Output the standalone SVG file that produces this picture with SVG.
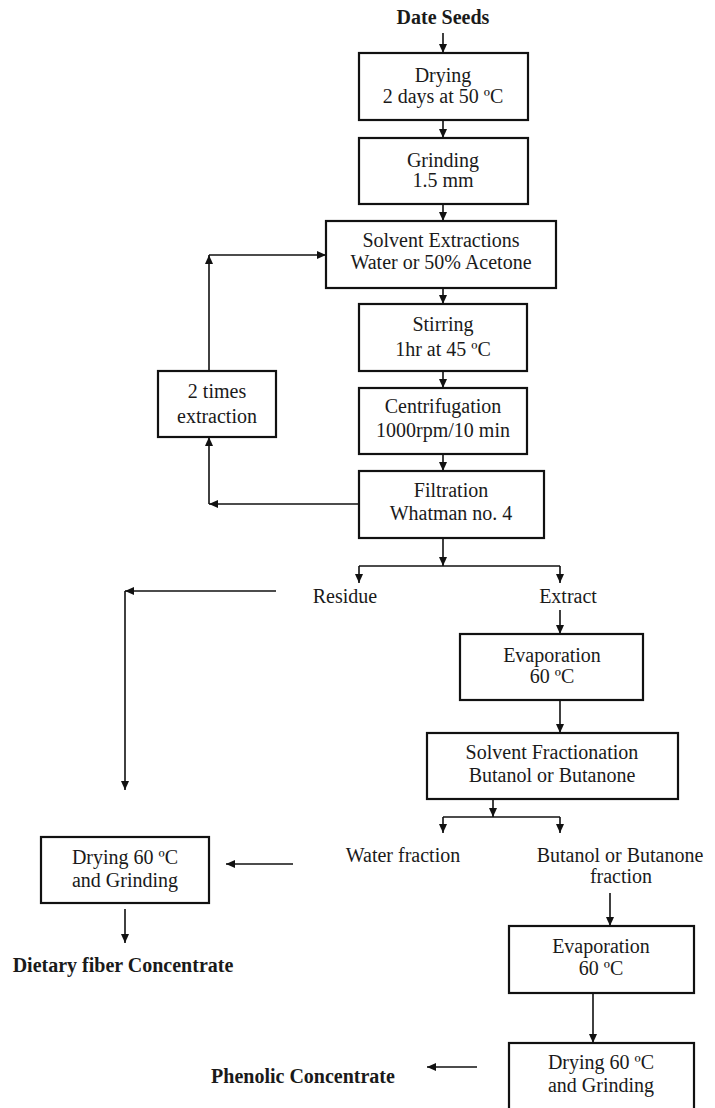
<svg xmlns="http://www.w3.org/2000/svg" width="715" height="1108" viewBox="0 0 715 1108">
<defs>
<marker id="ah" markerUnits="userSpaceOnUse" markerWidth="10" markerHeight="8" refX="9" refY="4" orient="auto">
<path d="M0,0 L9,4 L0,8 z" fill="#111"/>
</marker>
<style>
.box{fill:#fff;stroke:#111;stroke-width:2.2}
.t{font-family:"Liberation Serif","Times New Roman",serif;font-size:20px;fill:#1a1a1a;text-anchor:middle}
.b{font-weight:bold}
.c{fill:none;stroke:#111;stroke-width:1.6}
.a{marker-end:url(#ah)}
</style>
</defs>
<rect width="715" height="1108" fill="#fff"/>
<g id="connectors">
<path class="c a" d="M443,33 V53"/>
<path class="c a" d="M443,120 V138"/>
<path class="c a" d="M443,204 V221"/>
<path class="c a" d="M443,288 V304"/>
<path class="c a" d="M443,371 V388"/>
<path class="c a" d="M443,454 V471"/>
<path class="c a" d="M359,504 H209"/>
<path class="c a" d="M209,504 V437"/>
<path class="c a" d="M209,371 V255"/>
<path class="c a" d="M209,255 H326"/>
<path class="c a" d="M443,538 V566"/>
<path class="c" d="M359,566 H560"/>
<path class="c a" d="M359,566 V583"/>
<path class="c a" d="M560,566 V583"/>
<path class="c a" d="M276,591 H125"/>
<path class="c a" d="M125,591 V790"/>
<path class="c a" d="M560,610 V634"/>
<path class="c a" d="M560,700 V733"/>
<path class="c a" d="M493,799 V817"/>
<path class="c" d="M443,817 H560"/>
<path class="c a" d="M443,817 V833"/>
<path class="c a" d="M560,817 V833"/>
<path class="c a" d="M293,864 H226"/>
<path class="c a" d="M125,909 V943"/>
<path class="c a" d="M610,893 V926"/>
<path class="c a" d="M593,993 V1043"/>
<path class="c a" d="M477,1067 H427"/>
</g>
<g id="date-seeds"><text class="t b" x="443" y="24">Date Seeds</text></g>
<g id="drying1"><rect class="box" x="359" y="53" width="169" height="67"/><text class="t" x="443" y="82">Drying</text><text class="t" x="443" y="103">2 days at 50 ºC</text></g>
<g id="grinding"><rect class="box" x="359" y="138" width="169" height="66"/><text class="t" x="443" y="167">Grinding</text><text class="t" x="443" y="187">1.5 mm</text></g>
<g id="solvent-extractions"><rect class="box" x="326" y="221" width="230" height="67"/><text class="t" x="441" y="247">Solvent Extractions</text><text class="t" x="441" y="269">Water or 50% Acetone</text></g>
<g id="stirring"><rect class="box" x="359" y="304" width="168" height="67"/><text class="t" x="443" y="331">Stirring</text><text class="t" x="443" y="356">1hr at 45 ºC</text></g>
<g id="centrifugation"><rect class="box" x="359" y="388" width="168" height="66"/><text class="t" x="443" y="413">Centrifugation</text><text class="t" x="443" y="437">1000rpm/10 min</text></g>
<g id="filtration"><rect class="box" x="359" y="471" width="185" height="67"/><text class="t" x="451" y="497">Filtration</text><text class="t" x="451" y="520">Whatman no. 4</text></g>
<g id="two-times"><rect class="box" x="158" y="371" width="118" height="66"/><text class="t" x="217" y="398">2 times</text><text class="t" x="217" y="423">extraction</text></g>
<g id="residue"><text class="t" x="345" y="603">Residue</text></g>
<g id="extract"><text class="t" x="568" y="603">Extract</text></g>
<g id="evaporation1"><rect class="box" x="460" y="634" width="183" height="66"/><text class="t" x="552" y="662">Evaporation</text><text class="t" x="552" y="683">60 ºC</text></g>
<g id="solvent-fractionation"><rect class="box" x="427" y="733" width="251" height="66"/><text class="t" x="552" y="759">Solvent Fractionation</text><text class="t" x="552" y="782">Butanol or Butanone</text></g>
<g id="water-fraction"><text class="t" x="403" y="862">Water fraction</text></g>
<g id="butanol-fraction"><text class="t" x="620" y="862">Butanol or Butanone</text><text class="t" x="621" y="883">fraction</text></g>
<g id="drying2"><rect class="box" x="41" y="837" width="168" height="66"/><text class="t" x="125" y="864">Drying 60 ºC</text><text class="t" x="125" y="887">and Grinding</text></g>
<g id="dietary-fiber"><text class="t b" x="123" y="972">Dietary fiber Concentrate</text></g>
<g id="evaporation2"><rect class="box" x="509" y="926" width="185" height="67"/><text class="t" x="601" y="953">Evaporation</text><text class="t" x="601" y="975">60 ºC</text></g>
<g id="drying3"><rect class="box" x="509" y="1043" width="185" height="80"/><text class="t" x="601" y="1069">Drying 60 ºC</text><text class="t" x="601" y="1092">and Grinding</text></g>
<g id="phenolic"><text class="t b" x="303" y="1083">Phenolic Concentrate</text></g>
</svg>
